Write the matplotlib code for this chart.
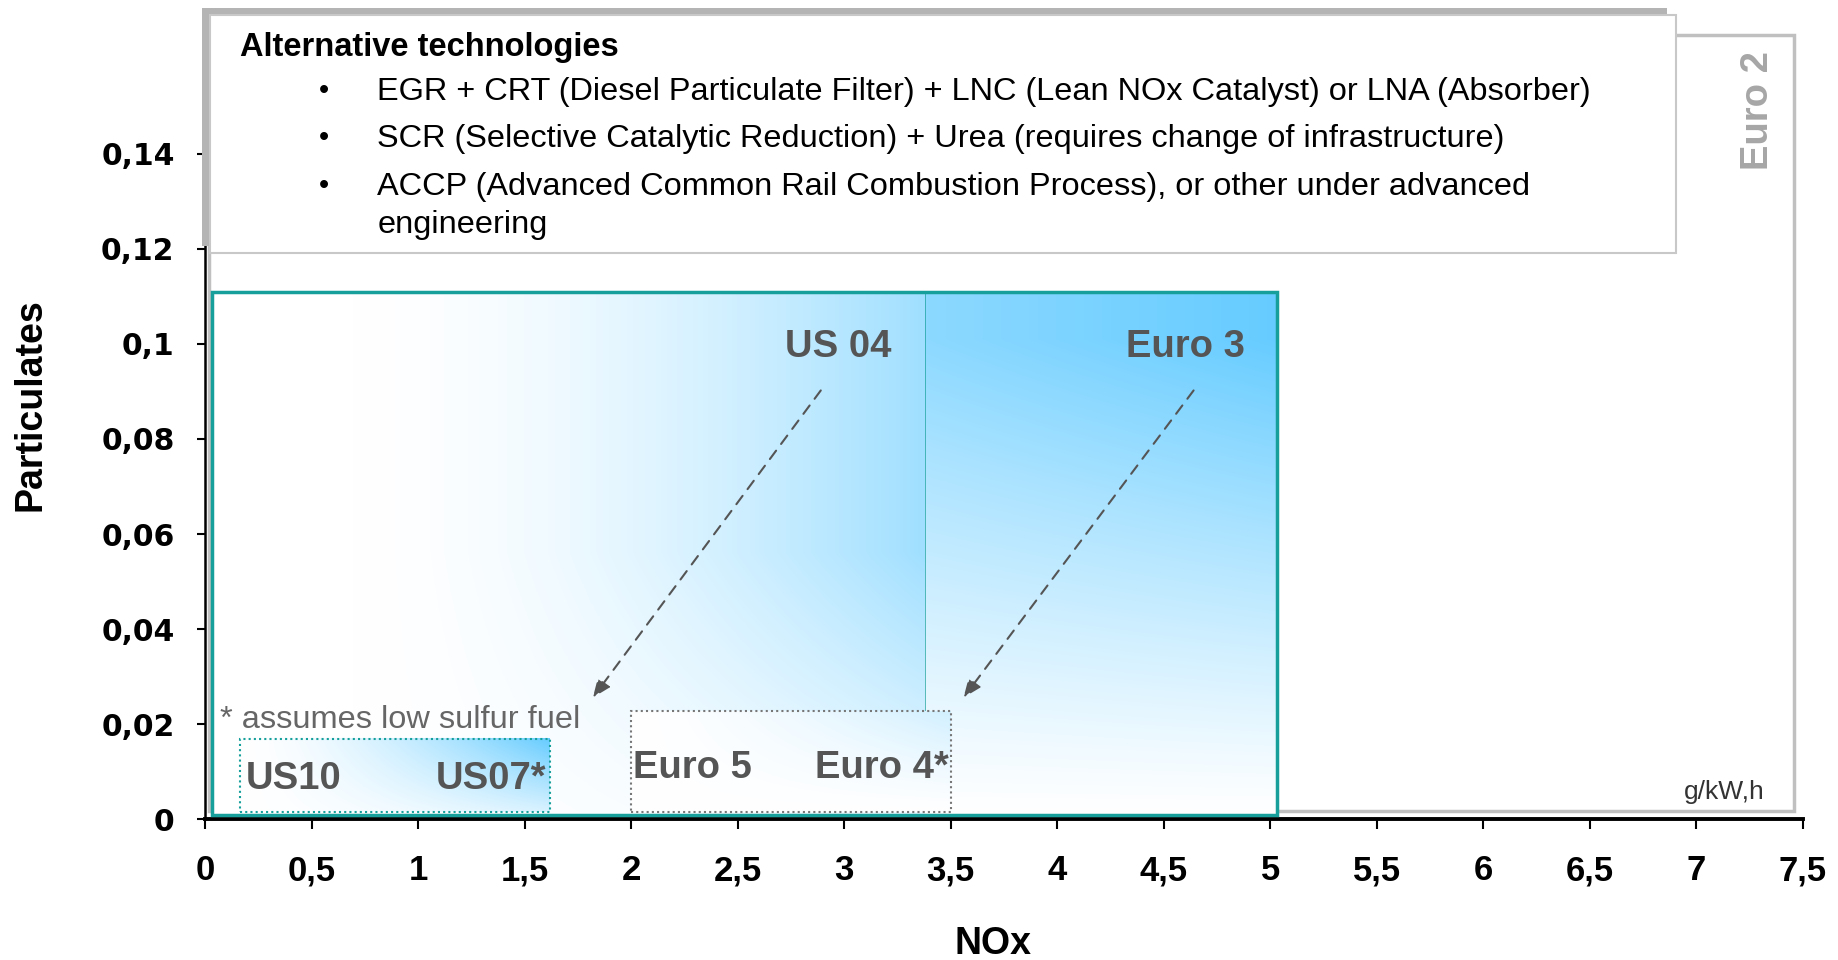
import matplotlib.pyplot as plt
from matplotlib.patches import Rectangle
import numpy as np

# DATA --------------------------------------------------------------------------
x_ticks = [0, 0.5, 1, 1.5, 2, 2.5, 3, 3.5, 4, 4.5, 5, 5.5, 6, 6.5, 7, 7.5]
x_tick_labels = ['0', '0,5', '1', '1,5', '2', '2,5', '3', '3,5', '4', '4,5',
                 '5', '5,5', '6', '6,5', '7', '7,5']
y_ticks = [0, 0.02, 0.04, 0.06, 0.08, 0.1, 0.12, 0.14]
y_tick_labels = ['0', '0,02', '0,04', '0,06', '0,08', '0,1', '0,12', '0,14']

# limit regions (NOx range, particulates range)
euro2_nox = [0.02, 7.46]
euro2_pm = [0.0017, 0.165]
euro3_nox = [0.03, 5.03]
euro3_pm = [0.001, 0.111]
us04_nox_split = 3.38
euro4_nox = [2.0, 3.5]
euro4_pm = [0.0015, 0.0227]
us07_nox = [0.165, 1.62]
us07_pm = [0.0015, 0.017]

tech_title = 'Alternative technologies'
tech_items = ['EGR + CRT (Diesel Particulate Filter) + LNC (Lean NOx Catalyst) or LNA (Absorber)',
              'SCR (Selective Catalytic Reduction) + Urea (requires change of infrastructure)',
              'ACCP (Advanced Common Rail Combustion Process), or other under advanced\nengineering']

# STYLE -------------------------------------------------------------------------
BLUE = np.array([0.40, 0.80, 1.0])
TEAL = '#17a09b'
LABEL_GREY = '#555555'
plt.rcParams['font.family'] = ['Liberation Sans', 'DejaVu Sans']

fig = plt.figure(figsize=(18.38, 9.6), dpi=100)
ax = fig.add_axes([0.1116, 0.1465, 0.8693, 0.8421])


def shade(intensity):
    # white -> light blue
    return 1 - intensity[..., None] * (1 - BLUE)


def grid(n=200):
    u, v = np.meshgrid(np.linspace(0, 1, n), np.linspace(1, 0, n))
    return u, v


# Euro 2 box (background)
ax.add_patch(Rectangle((euro2_nox[0], euro2_pm[0]), euro2_nox[1] - euro2_nox[0],
                       euro2_pm[1] - euro2_pm[0], facecolor='white',
                       edgecolor='#c0c0c0', lw=2.5, clip_on=False, zorder=0.5))

# big box gradients: left part (US 04) and right part (Euro 3)
u, v = grid()
I_left = 0.62 * np.clip((u - 0.2) / 0.8, 0, 1) ** 1.7 * np.minimum(1, 0.2 + 1.6 * v)
ax.imshow(shade(I_left), extent=(euro3_nox[0], us04_nox_split, euro3_pm[0], euro3_pm[1]),
          aspect='auto', interpolation='bilinear', zorder=1)
I_right = np.clip(v * 1.1, 0, 1) ** 1.1 * (0.75 + 0.25 * u)
ax.imshow(shade(I_right), extent=(us04_nox_split, euro3_nox[1], euro3_pm[0], euro3_pm[1]),
          aspect='auto', interpolation='bilinear', zorder=1)
ax.add_patch(Rectangle((euro3_nox[0], euro3_pm[0]), euro3_nox[1] - euro3_nox[0],
                       euro3_pm[1] - euro3_pm[0], fill=False, edgecolor=TEAL,
                       lw=2.5, zorder=3))
ax.plot([us04_nox_split, us04_nox_split], [euro4_pm[1], euro3_pm[1]],
        color=TEAL, lw=0.7, alpha=0.7, zorder=2)

# US07 / US10 box
I_us = np.clip(u, 0, 1) ** 1.6 * (0.25 + 0.75 * v)
ax.imshow(shade(I_us), extent=(us07_nox[0], us07_nox[1], us07_pm[0], us07_pm[1]),
          aspect='auto', interpolation='bilinear', zorder=2)
ax.add_patch(Rectangle((us07_nox[0], us07_pm[0]), us07_nox[1] - us07_nox[0],
                       us07_pm[1] - us07_pm[0], fill=False, edgecolor=TEAL,
                       lw=1.5, linestyle=(0, (1, 1.5)), zorder=3))

# Euro 4 / Euro 5 box
I_eu = 0.3 * u ** 1.5 * v ** 1.2
ax.imshow(shade(I_eu), extent=(euro4_nox[0], euro4_nox[1], euro4_pm[0], euro4_pm[1]),
          aspect='auto', interpolation='bilinear', zorder=2)
ax.add_patch(Rectangle((euro4_nox[0], euro4_pm[0]), euro4_nox[1] - euro4_nox[0],
                       euro4_pm[1] - euro4_pm[0], fill=False, edgecolor='#777777',
                       lw=1.5, linestyle=(0, (1, 1.5)), zorder=3))

# region labels
big = dict(fontsize=27.5, fontweight='bold', color=LABEL_GREY, va='center', zorder=4)
ax.text(3.22, 0.0993, 'US 04', ha='right', **big)
ax.text(4.88, 0.0993, 'Euro 3', ha='right', **big)
ax.text(0.19, 0.0084, 'US10', ha='left', **big)
ax.text(1.60, 0.0084, 'US07*', ha='right', **big)
ax.text(2.01, 0.0109, 'Euro 5', ha='left', **big)
ax.text(3.49, 0.0109, 'Euro 4*', ha='right', **big)
ax.text(0.07, 0.0209, '* assumes low sulfur fuel', fontsize=23.4, color='#666666',
        ha='left', va='center', zorder=4)
ax.text(7.32, 0.0057, 'g/kW,h', fontsize=19, color='#333333', ha='right',
        va='center', zorder=4)
ax.text(7.29, 0.149, 'Euro 2', fontsize=27.5, fontweight='bold', color='#a6a6a6',
        rotation=90, ha='center', va='center', zorder=4)

# dashed arrows (US 04 -> US07, Euro 3 -> Euro 4)
for start, end in [((2.89, 0.0902), (1.82, 0.0256)), ((4.64, 0.0902), (3.56, 0.0256))]:
    ax.annotate('', xy=end, xytext=start, zorder=4,
                arrowprops=dict(arrowstyle='-|>,head_length=1.1,head_width=0.45',
                                color='#555555', lw=1.5, linestyle=(0, (5, 4)),
                                shrinkA=0, shrinkB=0))

# alternative technologies text box with shadow
ax.add_patch(Rectangle((-0.0165, 0.1205), 6.88, 0.0501, facecolor='#b4b4b4',
                       edgecolor='none', clip_on=False, zorder=6))
ax.add_patch(Rectangle((0.022, 0.1191), 6.884, 0.05, facecolor='white',
                       edgecolor='#c8c8c8', lw=1.5, clip_on=False, zorder=6))
ax.text(0.165, 0.1624, tech_title, fontsize=23.5, fontweight='bold', va='center',
        ha='left', zorder=7)
for yy, item in zip([0.1531, 0.1432, 0.1331], tech_items):
    ax.text(0.534, yy, '•', fontsize=21, va='center', ha='left', zorder=7)
    ax.text(0.809, yy + 0.0030, item, fontsize=23.4, va='top', ha='left',
            zorder=7, linespacing=1.32)

# AXES ---------------------------------------------------------------------------
ax.set_xlim(0, 7.5)
ax.set_ylim(0, 0.17)
ax.set_xticks(x_ticks)
ax.set_xticklabels(x_tick_labels, fontsize=25, fontweight='bold')
ax.set_yticks(y_ticks)
ax.set_yticklabels(y_tick_labels, fontsize=21.5, fontweight='bold',
                   family='DejaVu Sans')
ax.tick_params(axis='x', length=7, width=1.5, pad=18)
ax.tick_params(axis='y', length=6, width=1.5, pad=16)
for side in ['top', 'right']:
    ax.spines[side].set_visible(False)
ax.spines['bottom'].set_linewidth(2.8)
ax.spines['left'].set_linewidth(1.8)
ax.set_xlabel('NOx', fontsize=27, fontweight='bold', labelpad=28)
ax.set_ylabel('Particulates', fontsize=27, fontweight='bold', labelpad=38)
ax.xaxis.label.set_x(0.493)
ax.yaxis.label.set_y(0.513)

fig.savefig('out.png', dpi=100, facecolor='white')
